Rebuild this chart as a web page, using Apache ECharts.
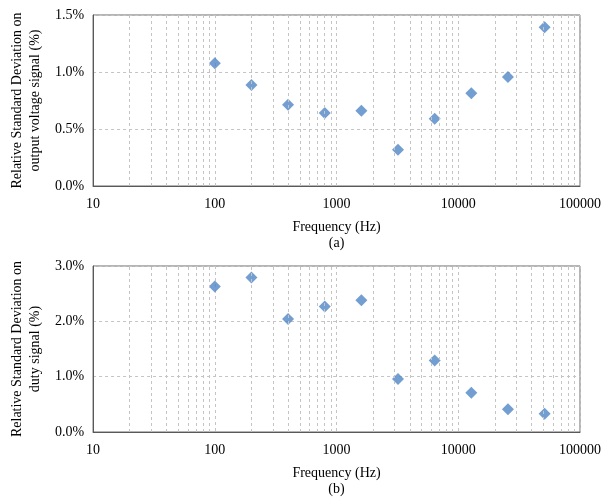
<!DOCTYPE html>
<html>
<head>
<meta charset="utf-8">
<script src="https://cdn.jsdelivr.net/npm/echarts@6/dist/echarts.min.js"></script>
<style>html,body{margin:0;padding:0;background:#fff}#c{width:604px;height:503px}</style>
</head>
<body>
<div id="c"></div>
<script>
var frequencies = [100, 200, 400, 800, 1600, 3200, 6400, 12800, 25600, 51200];
var voltageRSD = [1.076, 0.886, 0.713, 0.640, 0.661, 0.319, 0.590, 0.813, 0.956, 1.392];
var dutyRSD = [2.63, 2.79, 2.04, 2.27, 2.38, 0.96, 1.29, 0.71, 0.41, 0.33];
var decades = [10, 100, 1000, 10000];
var minorMultipliers = [2, 3, 4, 5, 6, 7, 8, 9];

var FONT = 'Liberation Serif';
var minorLines = [];
decades.forEach(function (d) { minorMultipliers.forEach(function (m) { minorLines.push({ xAxis: d * m }); }); });

function pairs(ys) { return frequencies.map(function (f, i) { return [f, ys[i]]; }); }

var dash = { color: '#c4c4c4', type: [3, 3], width: 1 };

function xAxis(idx, label) {
  return {
    type: 'log', gridIndex: idx, min: 10, max: 100000, logBase: 10,
    name: 'Frequency (Hz)\n' + label, nameLocation: 'middle', nameGap: 33,
    nameTextStyle: { fontFamily: FONT, fontSize: 14, color: '#000', lineHeight: 16 },
    axisLine: { lineStyle: { color: '#595959' } },
    axisTick: { show: false },
    axisLabel: { fontFamily: FONT, fontSize: 14, color: '#000', margin: 11,
      formatter: function (v) { return String(Math.round(v)); } },
    splitLine: { show: true, lineStyle: dash }
  };
}
function yAxis(idx, max, name) {
  return {
    type: 'value', gridIndex: idx, min: 0, max: max, interval: max / 3,
    name: name, nameLocation: 'middle', nameGap: 49,
    nameTextStyle: { fontFamily: FONT, fontSize: 14, color: '#000', lineHeight: 18 },
    axisLine: { show: true, lineStyle: { color: '#595959' } },
    axisTick: { show: false },
    axisLabel: { fontFamily: FONT, fontSize: 14, color: '#000', margin: 9,
      formatter: function (v) { return v.toFixed(1) + '%'; } },
    splitLine: { show: true, lineStyle: dash }
  };
}
function series(idx, ys) {
  return {
    type: 'scatter', xAxisIndex: idx, yAxisIndex: idx, data: pairs(ys),
    symbol: 'diamond', symbolSize: 12, itemStyle: { color: '#4F86C6' },
    markLine: { silent: true, symbol: 'none', label: { show: false },
      lineStyle: dash, animation: false, data: minorLines }
  };
}

var chart = echarts.init(document.getElementById('c'), null, { renderer: 'canvas' });
chart.setOption({
  animation: false,
  backgroundColor: '#fff',
  grid: [
    { left: 90, top: 15, width: 492, height: 171, show: true, borderColor: '#6b6b6b', borderWidth: 1 },
    { left: 90, top: 266, width: 492, height: 166, show: true, borderColor: '#6b6b6b', borderWidth: 1 }
  ],
  xAxis: [xAxis(0, '(a)'), xAxis(1, '(b)')],
  yAxis: [
    yAxis(0, 1.5, 'Relative Standard Deviation on\noutput voltage signal (%)'),
    yAxis(1, 3.0, 'Relative Standard Deviation on\nduty signal (%)')
  ],
  series: [series(0, voltageRSD), series(1, dutyRSD)]
});
</script>
</body>
</html>
